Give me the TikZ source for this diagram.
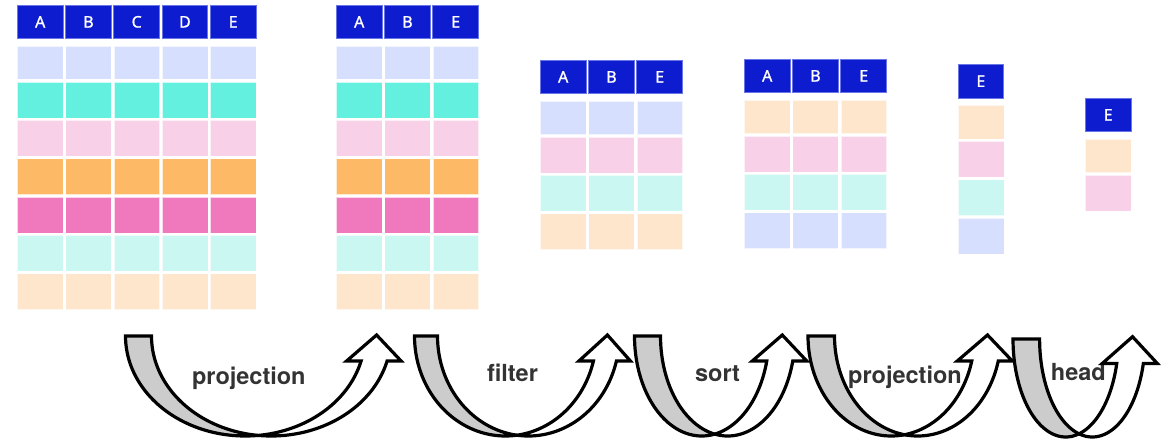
\documentclass[tikz,border=0pt]{standalone}
\usepackage{fontspec}
\newfontfamily\hdrfont{Noto Sans}[AutoFakeBold=1.1]
\newfontfamily\lblfont{TeX Gyre Heros}
\definecolor{hdrblue}{HTML}{0E1CD0}
\definecolor{hdredge}{HTML}{6A76E6}
\definecolor{lav}{HTML}{D6E0FE}
\definecolor{turq}{HTML}{64F0DE}
\definecolor{pnk}{HTML}{F8D0E8}
\definecolor{orng}{HTML}{FEB966}
\definecolor{mag}{HTML}{F078BC}
\definecolor{cyn}{HTML}{CBF7F2}
\definecolor{peach}{HTML}{FEE6CC}
\definecolor{bandgray}{HTML}{CCCCCC}
\definecolor{lbltext}{HTML}{333333}
\tikzset{
  hdr/.style={rectangle, fill=hdrblue, draw=hdredge, line width=0.8pt,
    minimum width=45.8pt, minimum height=33.7pt, inner sep=0pt, text=white,
    font=\hdrfont\bfseries\fontsize{16}{16}\selectfont},
  body/.style={rectangle, draw=white, draw opacity=0.7, line width=0.6pt,
    minimum width=45.8pt, inner sep=0pt},
  lbl/.style={anchor=base, inner sep=0pt, text=lbltext,
    font=\lblfont\bfseries\fontsize{23.5}{23.5}\selectfont},
  grayband/.style={fill=bandgray, draw=black, line width=3.2pt, line join=miter},
  whiteband/.style={fill=white, draw=black, line width=3.2pt, line join=miter}
}
% table: #1 name, #2 left x, #3 top y, #4 letters, #5 row colours
\newcommand\mktable[5]{%
  \foreach \L [count=\i] in {#4} {%
    \pgfmathsetmacro\tcx{#2 + (\i-1)*48.25 + 22.9}%
    \node[hdr] (#1h\L) at (\tcx, #3+16.85) {\L};%
    \foreach \C [count=\j] in {#5} {%
      \ifnum\j=1
        \pgfmathsetmacro\tcy{#3+57.75}\pgfmathsetmacro\tch{33.5}%
      \else
        \pgfmathsetmacro\tcy{#3+77+(\j-2)*38.3+18}\pgfmathsetmacro\tch{36}%
      \fi
      \node[body, fill=\C, minimum height=\tch pt] (#1r\j\L) at (\tcx,\tcy) {};%
    }%
  }%
}
% u-turn arrow: #1 c, #2 yT, #3 rx, #4 ry, #5 w, #6 yH, #7 tip y
\newcommand\uturn[7]{%
  \pgfmathsetmacro\uTA{acos(#5/(2*#3))}%
  \pgfmathsetmacro\uTB{180-\uTA}%
  \pgfmathsetmacro\uTH{asin((#6-#2)/#4)}%
  \pgfmathsetmacro\uSL{#1+#3*cos(\uTH)}%
  \pgfmathsetmacro\uSR{#1+#5+#3*cos(\uTH)}%
  \pgfmathsetmacro\uTX{(\uSL+\uSR)/2+2.5}%
  \draw[grayband] plot[domain=180:\uTA, samples=50] ({#1+#3*cos(\x)},{#2+#4*sin(\x)})
    -- plot[domain=\uTB:180, samples=50] ({#1+#5+#3*cos(\x)},{#2+#4*sin(\x)}) -- cycle;
  \draw[whiteband] plot[domain=\uTB:\uTH, samples=50] ({#1+#5+#3*cos(\x)},{#2+#4*sin(\x)})
    -- (\uSR+14,#6) -- (\uTX,#7) -- (\uSL-14.5,#6)
    -- plot[domain=\uTH:\uTA, samples=50] ({#1+#3*cos(\x)},{#2+#4*sin(\x)}) -- cycle;
}
\begin{document}
\begin{tikzpicture}[x=1pt,y=-1pt]
\useasboundingbox (0,0) rectangle (1166,441);
\mktable{ta}{17.3}{5}{A,B,C,D,E}{lav,turq,pnk,orng,mag,cyn,peach}
\mktable{tb}{336.3}{5}{A,B,E}{lav,turq,pnk,orng,mag,cyn,peach}
\mktable{tc}{540.3}{60}{A,B,E}{lav,pnk,cyn,peach}
\mktable{td}{744.3}{59}{A,B,E}{peach,pnk,cyn,lav}
\mktable{te}{958}{64.3}{E}{peach,pnk,cyn,lav}
\mktable{tf}{1085.3}{98}{E}{peach,pnk}
% labels
\node[lbl] (l1) at (248.8,384.3) {projection};
\node[lbl] (l2) at (512.5,381) {filter};
\node[lbl] (l3) at (717.5,381.7) {sort};
\node[lbl] (l4) at (905,383.3) {projection};
\node[lbl] (l5) at (1078.3,380) {head};
% arrows
\uturn{245.2}{336}{119.7}{100}{26}{361}{335}
\uturn{505.4}{336}{90.9}{100}{23}{361}{335}
\uturn{701.7}{336}{67.2}{100}{26}{361}{335}
\uturn{891.2}{336}{83.2}{100}{26.5}{361}{335}
\uturn{1065.7}{339}{52.7}{98}{26.6}{363.5}{336.7}
\end{tikzpicture}
\end{document}
